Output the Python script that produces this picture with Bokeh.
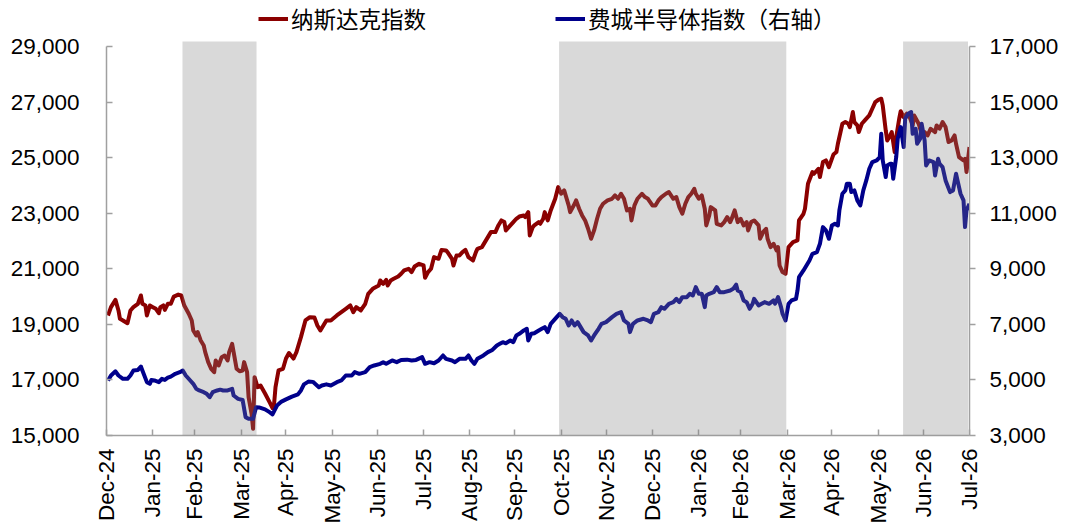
import numpy as np
import pandas as pd
from bokeh.plotting import figure
from bokeh.models import (Range1d, LinearAxis, FixedTicker, BoxAnnotation,
                          Legend, LegendItem, NumeralTickFormatter)
from bokeh.embed import file_html
from bokeh.resources import INLINE

# ---------------- data ----------------
# x values: trading-day offsets (days) from 2024-12-31
START = pd.Timestamp("2024-12-31")

tick_labels = ["Dec-24", "Jan-25", "Feb-25", "Mar-25", "Apr-25", "May-25", "Jun-25",
               "Jul-25", "Aug-25", "Sep-25", "Oct-25", "Nov-25", "Dec-25", "Jan-26",
               "Feb-26", "Mar-26", "Apr-26", "May-26", "Jun-26", "Jul-26"]
left_ticks = [15000, 17000, 19000, 21000, 23000, 25000, 27000, 29000]
right_ticks = [3000, 5000, 7000, 9000, 11000, 13000, 15000, 17000]

nasdaq_days = [1, 3, 6, 8, 9, 11, 14, 15, 16, 18, 21, 23, 24, 26, 27, 29, 31, 33, 35, 36,
               38, 39, 41, 43, 45, 48, 50, 52, 55, 57, 58, 60, 61, 63, 65, 66, 68, 70, 72, 73,
               75, 77, 79, 81, 82, 84, 85, 87, 89, 91, 92, 94, 95, 97, 98, 99, 101, 103, 106, 109,
               111, 112, 113, 115, 118, 120, 122, 125, 127, 130, 133, 136, 139, 141, 143, 145, 147, 150, 154, 157,
               160, 163, 165, 167, 170, 173, 175, 178, 182, 183, 185, 187, 188, 190, 192, 195, 197, 199, 202, 204,
               206, 209, 212, 213, 215, 217, 219, 222, 224, 227, 228, 231, 232, 234, 236, 238, 240, 242, 245, 247,
               248, 251, 253, 255, 257, 260, 262, 264, 266, 267, 270, 272, 274, 276, 279, 280, 282, 283, 285, 286,
               289, 290, 292, 293, 295, 297, 300, 302, 304, 306, 309, 310, 313, 314, 316, 318, 320, 322, 324, 326,
               328, 330, 332, 335, 338, 340, 342, 344, 346, 348, 350, 351, 353, 355, 358, 360, 362, 365, 367, 369,
               371, 374, 376, 379, 381, 383, 385, 387, 389, 391, 393, 394, 396, 398, 400, 401, 403, 404, 407, 408,
               411, 413, 415, 417, 418, 420, 422, 424, 426, 428, 429, 431, 433, 436, 437, 439, 441, 442, 444, 446,
               448, 449, 450, 452, 454, 456, 459, 462, 463, 466, 467, 469, 472, 473, 476, 477, 479, 481, 483, 486,
               488, 489, 492, 494, 496, 497, 499, 500, 502, 503, 505, 507, 510, 512, 514, 516, 518, 519, 521, 522,
               524, 525, 527, 528, 530, 531, 533, 535, 537, 539, 540, 543, 545, 547, 549, 551, 554, 555, 557, 559,
               561, 563, 565, 567, 568, 570, 573, 574, 575, 577]
nasdaq_vals = [19320, 19620, 19880, 19500, 19200, 19140, 19040, 19260, 19500, 19620, 19740, 20040, 19740, 19680, 19320, 19680, 19620, 19560, 19400, 19620,
               19680, 19520, 19740, 19740, 20000, 20070, 20040, 19680, 19380, 19140, 18780, 18600, 18720, 18420, 18240, 18000, 17640, 17400, 17280, 17700,
               17520, 17820, 17880, 17700, 18000, 18300, 18000, 17400, 17310, 17340, 17640, 17280, 16380, 15780, 15240, 17100, 16740, 16800, 16510, 16200,
               15990, 16100, 16740, 17340, 17400, 17770, 17970, 17770, 18000, 18540, 19140, 19260, 19250, 18960, 18780, 18960, 19140, 19140, 19320, 19440,
               19560, 19680, 19440, 19620, 19500, 19740, 20100, 20280, 20400, 20580, 20460, 20600, 20400, 20580, 20640, 20720, 20820, 20940, 21000, 20880,
               21080, 21180, 21120, 20680, 20880, 21000, 21420, 21360, 21680, 21660, 21600, 21360, 21120, 21480, 21480, 21600, 21680, 21420, 21300, 21600,
               21720, 21780, 21960, 22140, 22320, 22320, 22560, 22740, 22680, 22380, 22560, 22680, 22800, 22880, 22920, 22860, 23040, 22200, 22500, 22560,
               22680, 22620, 22800, 23040, 22740, 23100, 23520, 23940, 23700, 23820, 23280, 23040, 23340, 23460, 23160, 22920, 22740, 22440, 22080, 22380,
               22800, 23160, 23340, 23460, 23520, 23640, 23520, 23700, 23520, 23100, 23160, 22740, 23280, 23520, 23700, 23580, 23520, 23280, 23280, 23460,
               23580, 23700, 23760, 23520, 23580, 23220, 22980, 23340, 23580, 23700, 23880, 23700, 23520, 23640, 23160, 22560, 22920, 23220, 23100, 22620,
               22560, 22680, 22860, 22680, 22800, 23100, 22680, 22800, 22560, 22680, 22380, 22680, 22740, 22560, 22080, 22320, 22440, 22080, 21780, 21900,
               21660, 21780, 21120, 20880, 20820, 21780, 21960, 22020, 22740, 22980, 23160, 24060, 24480, 24420, 24600, 24300, 24840, 24900, 24660, 25110,
               25200, 25500, 26220, 26280, 26220, 26100, 26640, 26280, 26160, 25920, 26220, 26340, 26520, 26760, 27000, 27080, 27120, 26880, 25980, 25620,
               25800, 25920, 25200, 25740, 26400, 26670, 26460, 26580, 26460, 26160, 26520, 26220, 25860, 25920, 25800, 26040, 25920, 26160, 26040, 26280,
               26100, 25560, 25620, 25800, 25500, 25020, 24900, 24960, 24480, 25380]

sox_days = [1, 3, 6, 8, 11, 14, 16, 18, 21, 23, 24, 27, 29, 30, 32, 35, 37, 39, 41, 43,
            46, 49, 51, 53, 56, 58, 60, 62, 65, 67, 69, 71, 74, 76, 78, 81, 84, 85, 88, 91,
            93, 95, 98, 100, 102, 106, 109, 111, 114, 117, 120, 124, 128, 130, 132, 135, 138, 142, 144, 147,
            150, 154, 157, 160, 164, 166, 169, 173, 176, 179, 183, 185, 187, 191, 194, 197, 201, 204, 207, 211,
            213, 216, 219, 222, 225, 227, 231, 233, 236, 240, 242, 244, 246, 248, 252, 255, 258, 261, 263, 265,
            267, 270, 272, 274, 276, 279, 281, 282, 284, 286, 289, 291, 293, 295, 297, 301, 303, 305, 307, 309,
            311, 313, 315, 317, 319, 322, 324, 326, 329, 331, 334, 338, 341, 344, 346, 349, 350, 352, 355, 359,
            362, 364, 366, 369, 371, 373, 376, 379, 381, 383, 385, 388, 390, 392, 394, 396, 398, 400, 401, 403,
            406, 408, 410, 413, 417, 419, 421, 422, 424, 426, 428, 430, 432, 433, 436, 438, 440, 443, 446, 447,
            449, 451, 452, 454, 456, 458, 461, 462, 463, 466, 468, 470, 472, 475, 477, 479, 481, 483, 485, 487,
            489, 490, 492, 494, 495, 497, 498, 500, 502, 504, 506, 508, 510, 512, 515, 517, 518, 519, 521, 522,
            524, 525, 526, 528, 529, 531, 533, 534, 536, 538, 539, 541, 542, 544, 545, 547, 548, 550, 553, 554,
            556, 557, 559, 561, 564, 566, 568, 569, 571, 573, 574, 575, 577]
sox_vals = [4980, 5160, 5310, 5160, 5040, 5040, 5160, 5340, 5360, 5480, 5340, 4920, 4860, 5000, 4980, 4920, 5040, 5000, 5080, 5120,
            5220, 5280, 5340, 5160, 4980, 4860, 4680, 4620, 4560, 4500, 4380, 4560, 4620, 4650, 4620, 4620, 4680, 4440, 4320, 4280,
            3660, 3600, 3600, 4020, 4010, 3940, 3840, 3760, 4080, 4220, 4300, 4400, 4480, 4620, 4840, 4940, 4930, 4740, 4800, 4840,
            4800, 4920, 4980, 5160, 5160, 5280, 5220, 5280, 5460, 5520, 5580, 5640, 5580, 5700, 5640, 5720, 5730, 5700, 5720, 5820,
            5580, 5640, 5600, 5700, 5880, 5760, 5700, 5640, 5760, 5760, 5880, 5700, 5580, 5760, 5880, 6000, 6080, 6240, 6300, 6360,
            6320, 6420, 6360, 6600, 6660, 6780, 6840, 6420, 6660, 6680, 6780, 6840, 6900, 6720, 7020, 7260, 7380, 7260, 7200, 6960,
            7140, 6960, 7080, 6900, 6720, 6600, 6420, 6600, 6840, 7020, 7080, 7260, 7380, 7440, 7140, 7020, 6720, 7020, 7140, 7200,
            7140, 7080, 7380, 7440, 7620, 7560, 7740, 7800, 7920, 7800, 7980, 7980, 8100, 8040, 8340, 8100, 8100, 7620, 8040, 8100,
            8160, 8340, 8160, 8160, 8220, 8280, 8430, 8220, 8160, 7860, 7800, 7560, 7740, 7920, 7680, 7740, 7800, 7740, 7860, 7740,
            7980, 7620, 7380, 7140, 7740, 7860, 7920, 8220, 8700, 8940, 9120, 9300, 9540, 9600, 9900, 10500, 10380, 10080, 10560, 10620,
            10560, 11100, 11700, 11820, 12060, 12060, 11760, 11820, 11460, 11280, 11820, 12180, 12600, 12840, 12900, 13020, 13860, 12900, 12300, 12720,
            12780, 12780, 12240, 13020, 13680, 14100, 13380, 14400, 14580, 14640, 13860, 14040, 13500, 13680, 14220, 13620, 12720, 12900, 12840, 12360,
            12960, 12780, 12660, 12180, 11760, 11820, 12420, 12180, 11700, 11460, 10500, 11100, 11340]

# shaded periods (day offsets from 2024-12-31)
shade_start = [50.8, 302.6, 532.6]
shade_end = [100.3, 454.5, 576.0]

series_names = ["纳斯达克指数", "费城半导体指数（右轴）"]

# ---------------- figure ----------------
month_ends = pd.date_range(START, periods=len(tick_labels), freq="ME")
tick_days = [int((d - START).days) for d in month_ends]
x_end = tick_days[-1]

LABEL_FONT = "Liberation Sans"
FS = "22.5px"

# frame spans the full page height above the x axis; 29,000 sits 46 px below the top
PX = 14000 / 389.0          # data units per pixel
TOP_PAD = 46 * PX           # room above 29,000 for the legend
SHADE_PAD = 5 * PX          # shaded bands reach 5 px above 29,000

p = figure(width=1080, height=532, output_backend="svg", toolbar_location=None,
           x_range=Range1d(0, x_end),
           y_range=Range1d(left_ticks[0], left_ticks[-1] + TOP_PAD),
           min_border_left=106, min_border_right=111, min_border_top=0, min_border_bottom=97)
p.extra_y_ranges = {"right": Range1d(right_ticks[0], right_ticks[-1] + TOP_PAD)}
p.outline_line_color = None
p.xgrid.visible = False
p.ygrid.visible = False
p.background_fill_color = "white"
p.border_fill_color = "white"

r_nas = p.line(nasdaq_days, nasdaq_vals, line_color="#8B0000", line_width=4, line_join="round")
r_sox = p.line(sox_days, sox_vals, line_color="#00008B", line_width=4, line_join="round",
               y_range_name="right")

for s, e in zip(shade_start, shade_end):
    p.add_layout(BoxAnnotation(left=s, right=e, top=left_ticks[-1] + SHADE_PAD,
                               fill_color="#808080", fill_alpha=0.3, line_color=None))

AX_COLOR = "#a0a0a0"

# bottom axis
xa = p.xaxis[0]
xa.ticker = FixedTicker(ticks=tick_days)
xa.major_label_overrides = {d: lab for d, lab in zip(tick_days, tick_labels)}
xa.major_label_orientation = np.pi / 2
xa.major_tick_in = 6
xa.major_tick_out = 0
xa.minor_tick_line_color = None
xa.axis_line_color = AX_COLOR
xa.axis_line_width = 1.5
xa.major_tick_line_color = AX_COLOR
xa.major_tick_line_width = 1.5
xa.major_label_text_font = LABEL_FONT
xa.major_label_text_font_size = FS
xa.major_label_text_color = "black"
xa.major_label_standoff = 13

# left axis
ya = p.yaxis[0]
ya.ticker = FixedTicker(ticks=left_ticks)
ya.formatter = NumeralTickFormatter(format="0,0")
ya.bounds = (left_ticks[0], left_ticks[-1])
ya.major_tick_in = 6
ya.major_tick_out = 0
ya.minor_tick_line_color = None
ya.axis_line_color = AX_COLOR
ya.axis_line_width = 1.5
ya.major_tick_line_color = AX_COLOR
ya.major_tick_line_width = 1.5
ya.major_label_text_font = LABEL_FONT
ya.major_label_text_font_size = FS
ya.major_label_text_color = "black"
ya.major_label_standoff = 27

# right axis
ra = LinearAxis(y_range_name="right", ticker=FixedTicker(ticks=right_ticks),
                formatter=NumeralTickFormatter(format="0,0"),
                bounds=(right_ticks[0], right_ticks[-1]))
ra.major_tick_in = 0
ra.major_tick_out = 6
ra.minor_tick_line_color = None
ra.axis_line_color = AX_COLOR
ra.axis_line_width = 1.5
ra.major_tick_line_color = AX_COLOR
ra.major_tick_line_width = 1.5
ra.major_label_text_font = LABEL_FONT
ra.major_label_text_font_size = FS
ra.major_label_text_color = "black"
ra.major_label_standoff = 14
p.add_layout(ra, "right")

legend = Legend(items=[LegendItem(label=series_names[0], renderers=[r_nas]),
                       LegendItem(label=series_names[1], renderers=[r_sox])],
                orientation="horizontal", location=(152, 401),
                glyph_width=30, glyph_height=25, label_height=25, label_standoff=3,
                spacing=129, padding=0, margin=0, border_line_color=None,
                background_fill_alpha=0, label_text_font="Noto Sans CJK SC",
                label_text_font_size=FS, label_text_color="black")
p.add_layout(legend)

open("out.html", "w").write(file_html(p, INLINE))
